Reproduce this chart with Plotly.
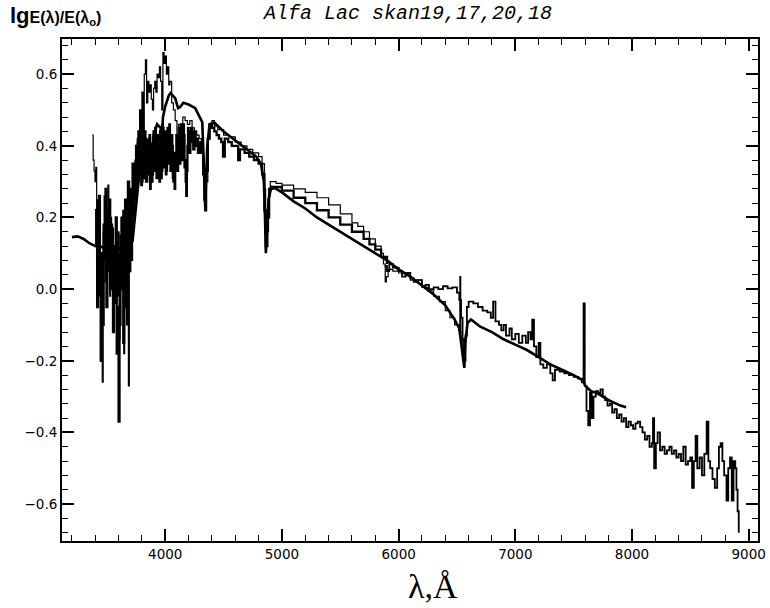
import plotly.graph_objects as go

# ---- series 1: smooth thick spectrum (wavelength in A, lg E/E0) ----
s1_wl = [3200, 3250, 3300, 3350, 3400, 3450, 3500, 3550, 3600, 3650,
         3700, 3720, 3740, 3760, 3780, 3800, 3830, 3860, 3880, 3889,
         3900, 3930, 3960, 3970, 3980, 4000, 4030, 4045, 4085, 4110,
         4128, 4155, 4200, 4257, 4290, 4317, 4325, 4335, 4342,
         4350, 4360, 4380, 4420, 4500, 4600, 4700, 4780, 4820, 4845,
         4855, 4862, 4870, 4885, 4910, 4950, 5000, 5100, 5200, 5300,
         5400, 5500, 5600, 5700, 5800, 5900, 6000, 6100, 6200, 6300,
         6400, 6480, 6520, 6540, 6555, 6563, 6572, 6590, 6620, 6700,
         6800, 6900, 7000, 7100, 7200, 7300, 7400, 7500, 7580, 7600,
         7650, 7700, 7800, 7900, 7950]
s1_val = [0.145, 0.147, 0.14, 0.128, 0.12, 0.118, 0.112, 0.11, 0.112, 0.115,
          0.12, 0.135, 0.2, 0.28, 0.33, 0.36, 0.4, 0.42, 0.40, 0.34,
          0.43, 0.46, 0.45, 0.40, 0.48, 0.51, 0.54, 0.547, 0.533, 0.505,
          0.508, 0.52, 0.515, 0.505, 0.485, 0.466, 0.40, 0.30, 0.23,
          0.30, 0.40, 0.46, 0.465, 0.44, 0.415, 0.39, 0.37, 0.35, 0.30,
          0.2, 0.10, 0.15, 0.25, 0.285, 0.28, 0.27, 0.245, 0.225, 0.20,
          0.18, 0.16, 0.14, 0.12, 0.10, 0.08, 0.055, 0.035, 0.01, -0.015,
          -0.045, -0.085, -0.11, -0.16, -0.21, -0.22, -0.15, -0.095, -0.085, -0.105,
          -0.12, -0.14, -0.155, -0.17, -0.19, -0.21, -0.225, -0.24, -0.255, -0.27,
          -0.285, -0.29, -0.31, -0.325, -0.33]

# ---- series 2: thin noisy spectrum (UV .. H-alpha) ----
s2_wl = [3375, 3382, 3390, 3398, 3405, 3412, 3420, 3428, 3436, 3444,
         3452, 3460, 3468, 3476, 3484, 3492, 3500, 3508, 3516, 3524,
         3532, 3540, 3548, 3556, 3564, 3572, 3580, 3588, 3596, 3604,
         3612, 3620, 3628, 3636, 3644, 3652, 3660, 3668, 3676, 3684,
         3692, 3700, 3710, 3720, 3730, 3740, 3750, 3760, 3770, 3780,
         3790, 3800, 3810, 3820, 3830, 3840, 3850, 3860, 3870, 3880,
         3890, 3900, 3910, 3920, 3930, 3940, 3950, 3960, 3970, 3980,
         3990, 4000, 4010, 4020, 4030, 4040, 4055, 4070, 4085, 4100,
         4115, 4130, 4150, 4170, 4190, 4210, 4230, 4250, 4270, 4290,
         4310, 4325, 4335, 4342, 4350, 4365, 4380, 4400, 4420, 4450,
         4500, 4550, 4600, 4650, 4700, 4750, 4800, 4830, 4850, 4860,
         4870, 4885, 4900, 4950, 5000, 5100, 5200, 5300, 5400, 5500,
         5600, 5650, 5700, 5750, 5800, 5850, 5870, 5885, 5895, 5910,
         5950, 6000, 6100, 6200, 6250, 6300, 6350, 6400, 6440, 6480,
         6515, 6525, 6532, 6545, 6560, 6575]
s2_val = [0.43, 0.36, 0.33, 0.30, 0.34, 0.15, 0.25, -0.02, 0.12, -0.20,
          0.08, -0.26, 0.16, 0.26, 0.02, 0.22, 0.08, 0.29, 0.14, -0.02,
          0.20, 0.04, 0.17, -0.08, 0.10, -0.04, 0.13, -0.02, 0.16, -0.14,
          0.10, 0.20, 0.00, 0.22, -0.18, 0.05, 0.18, -0.10, 0.24, -0.27,
          0.16, 0.26, 0.08, 0.30, 0.20, 0.36, 0.26, 0.42, 0.30, 0.50,
          0.38, 0.55, 0.45, 0.60, 0.64, 0.52, 0.58, 0.55, 0.57, 0.53,
          0.50, 0.56, 0.58, 0.55, 0.60, 0.59, 0.62, 0.58, 0.50, 0.66,
          0.63, 0.65, 0.60, 0.62, 0.57, 0.58, 0.52, 0.50, 0.47, 0.40,
          0.46, 0.45, 0.48, 0.47, 0.46, 0.47, 0.45, 0.44, 0.43, 0.42,
          0.40, 0.36, 0.28, 0.24, 0.30, 0.42, 0.45, 0.47, 0.455, 0.445,
          0.43, 0.425, 0.41, 0.40, 0.39, 0.38, 0.37, 0.35, 0.28, 0.14,
          0.16, 0.26, 0.30, 0.295, 0.29, 0.28, 0.27, 0.255, 0.235, 0.21,
          0.185, 0.175, 0.16, 0.14, 0.12, 0.10, 0.07, 0.02, 0.035, 0.055,
          0.05, 0.045, 0.025, 0.005, -0.005, -0.02, -0.035, -0.06, -0.08, -0.10,
          -0.115, 0.035, -0.12, -0.17, -0.20, -0.19]

# ---- series 3: heavy noisy spectrum (UV .. Na D) ----
s3_wl = [3400, 3408, 3416, 3424, 3432, 3440, 3448, 3456, 3464, 3472,
         3480, 3488, 3496, 3504, 3512, 3520, 3528, 3536, 3544, 3552,
         3560, 3568, 3576, 3584, 3592, 3600, 3608, 3616, 3624, 3632,
         3640, 3648, 3656, 3664, 3672, 3680, 3690, 3700, 3710, 3720,
         3730, 3740,
         3750, 3755, 3760, 3765, 3770, 3775, 3780, 3785, 3790, 3795,
         3800, 3805, 3810, 3815, 3820, 3825, 3830, 3835, 3840, 3845,
         3850, 3855, 3860, 3865, 3870, 3875, 3880, 3885, 3890, 3895,
         3900, 3905, 3910, 3915, 3920, 3925, 3930, 3935, 3940, 3945,
         3950, 3955, 3960, 3965, 3970, 3975, 3980, 3985, 3990, 3995,
         4000, 4005, 4010, 4015, 4020, 4025, 4030, 4035, 4040, 4045,
         4050, 4055, 4060, 4065, 4070, 4075, 4080, 4085, 4090, 4095,
         4100, 4105, 4110, 4115, 4120, 4125, 4130, 4135, 4140, 4145,
         4150, 4155, 4160, 4165, 4170, 4175, 4180, 4185, 4190, 4195,
         4200,
         4207, 4215, 4222, 4230, 4240, 4250, 4260, 4270, 4280, 4290,
         4300, 4310,
         4325, 4335, 4342, 4350, 4365, 4380, 4400, 4420, 4440, 4460,
         4480, 4495, 4510, 4540, 4570, 4600, 4625, 4640, 4680, 4720,
         4760, 4800, 4830, 4850, 4862, 4875, 4890, 4920, 5000, 5100,
         5200, 5300, 5400, 5500, 5600, 5700, 5750, 5800, 5850, 5900]
s3_val = [0.12, 0.22, -0.05, 0.15, 0.26, 0.05, -0.20, 0.10, -0.10, 0.18,
          0.08, 0.28, -0.05, 0.20, 0.05, 0.25, 0.00, 0.18, 0.08, -0.12,
          0.12, 0.02, 0.20, -0.18, -0.05, -0.37, -0.10, 0.15, 0.00, 0.20,
          -0.15, 0.08, 0.25, -0.05, 0.10, 0.30, 0.05, 0.28, 0.15, 0.35,
          0.25, 0.30,
          0.40, 0.30, 0.28, 0.41, 0.44, 0.33, 0.32, 0.43, 0.38, 0.29,
          0.30, 0.42, 0.45, 0.31, 0.34, 0.44, 0.42, 0.30, 0.30, 0.41,
          0.40, 0.32, 0.33, 0.43, 0.28, 0.35, 0.37, 0.30, 0.32, 0.42,
          0.44, 0.33, 0.35, 0.45, 0.40, 0.31, 0.31, 0.43, 0.42, 0.32,
          0.30, 0.44, 0.38, 0.31, 0.33, 0.46, 0.45, 0.34, 0.36, 0.44,
          0.41, 0.32, 0.33, 0.44, 0.45, 0.35, 0.38, 0.46, 0.42, 0.33,
          0.35, 0.43, 0.40, 0.31, 0.30, 0.38, 0.28, 0.34, 0.37, 0.43,
          0.42, 0.33, 0.36, 0.45, 0.44, 0.35, 0.39, 0.46, 0.45, 0.36,
          0.40, 0.46, 0.43, 0.34, 0.36, 0.30, 0.26, 0.33, 0.40, 0.45,
          0.44,
          0.38, 0.41, 0.45, 0.43, 0.39, 0.44, 0.40, 0.42, 0.38, 0.40,
          0.41, 0.38,
          0.32, 0.25, 0.22, 0.33, 0.42, 0.46, 0.45, 0.44, 0.43, 0.42,
          0.41, 0.37, 0.42, 0.41, 0.40, 0.40, 0.36, 0.39, 0.38, 0.37,
          0.36, 0.35, 0.32, 0.22, 0.12, 0.20, 0.28, 0.285, 0.275, 0.255,
          0.24, 0.22, 0.20, 0.18, 0.16, 0.14, 0.125, 0.11, 0.09, 0.07]

# ---- series 4: red noisy spectrum ----
s4_wl = [5880, 5900, 5920, 5950, 6000, 6030, 6060, 6100, 6130, 6160,
         6200, 6230, 6260, 6300, 6340, 6380, 6420, 6460, 6500, 6520,
         6535, 6548, 6560, 6572, 6585, 6600, 6640, 6680, 6720, 6760,
         6790, 6810, 6830, 6860, 6880, 6900, 6920, 6950, 6970, 7000,
         7030, 7060, 7090, 7110, 7130, 7145, 7160, 7180, 7200, 7215,
         7240, 7270, 7300, 7320, 7340, 7380, 7420, 7460, 7500, 7540,
         7570, 7585, 7595, 7610, 7625, 7640, 7655, 7670, 7690, 7710,
         7730, 7750, 7770, 7790, 7810, 7830, 7850, 7870, 7890, 7910,
         7930, 7950, 7970, 7990, 8010, 8030, 8050, 8070, 8090, 8110,
         8130, 8150, 8170, 8180, 8190, 8205, 8220, 8240, 8260, 8280,
         8300, 8320, 8340, 8360, 8380, 8400, 8420, 8440, 8460, 8480,
         8500, 8515, 8530, 8545, 8560, 8580, 8600, 8620, 8640, 8655,
         8670, 8690, 8710, 8730, 8745, 8760, 8775, 8790, 8810, 8825,
         8840, 8855, 8870, 8885, 8895, 8905, 8915]
s4_val = [0.065, 0.05, 0.07, 0.06, 0.05, 0.035, 0.045, 0.03, 0.02, 0.025,
          0.008, 0.012, 0.0, 0.005, 0.0, 0.008, 0.002, 0.005, -0.01, -0.03,
          -0.08, -0.14, -0.20, -0.13, -0.05, -0.035, -0.04, -0.05, -0.06, -0.065,
          -0.08, -0.035, -0.09, -0.10, -0.115, -0.10, -0.13, -0.11, -0.14, -0.125,
          -0.15, -0.13, -0.15, -0.12, -0.14, -0.085, -0.16, -0.19, -0.15, -0.21,
          -0.22, -0.21, -0.235, -0.255, -0.225, -0.23, -0.235, -0.24, -0.245, -0.25,
          -0.26, -0.04, -0.27, -0.34, -0.38, -0.29, -0.36, -0.30, -0.285, -0.29,
          -0.28, -0.30, -0.31, -0.325, -0.32, -0.345, -0.335, -0.36, -0.35, -0.37,
          -0.36, -0.385, -0.37, -0.38, -0.39, -0.375, -0.37, -0.385, -0.40, -0.42,
          -0.41, -0.44, -0.43, -0.36, -0.50, -0.43, -0.40, -0.45, -0.44, -0.46,
          -0.45, -0.44, -0.46, -0.45, -0.47, -0.46, -0.48, -0.44, -0.49, -0.48,
          -0.47, -0.555, -0.48, -0.41, -0.50, -0.47, -0.52, -0.46, -0.37, -0.48,
          -0.50, -0.53, -0.555, -0.50, -0.44, -0.43, -0.48, -0.52, -0.59, -0.50,
          -0.47, -0.59, -0.48, -0.50, -0.56, -0.62, -0.68]

fig = go.Figure()
series = [
    (s3_wl, s3_val, 2.3, "hv"),
    (s2_wl, s2_val, 1.2, "hv"),
    (s4_wl, s4_val, 1.8, "hv"),
    (s1_wl, s1_val, 2.6, "linear"),
]
for wl, val, w, shp in series:
    fig.add_trace(go.Scatter(x=wl, y=val, mode="lines",
                             line=dict(color="black", width=w, shape=shp),
                             hoverinfo="skip", showlegend=False))

tickfont = dict(family="DejaVu Sans", size=13.5, color="black")
fig.update_layout(
    width=770, height=608,
    margin=dict(l=62, r=12, t=39, b=67, autoexpand=False),
    paper_bgcolor="white", plot_bgcolor="white",
    showlegend=False,
    xaxis=dict(range=[3115, 9080], dtick=1000, tick0=0, automargin=False,
               ticks="inside", ticklen=12, tickwidth=1.5, tickcolor="black",
               showline=True, linewidth=2, linecolor="black", mirror="ticks",
               showgrid=False, zeroline=False, tickfont=tickfont,
               minor=dict(dtick=200, tick0=0, ticks="inside", ticklen=6,
                          tickwidth=1.2, tickcolor="black")),
    yaxis=dict(range=[-0.703, 0.698], dtick=0.2, tick0=0, tickformat=".1f",
               automargin=False,
               ticks="inside", ticklen=12, tickwidth=1.5, tickcolor="black",
               showline=True, linewidth=2, linecolor="black", mirror="ticks",
               showgrid=False, zeroline=False, tickfont=tickfont,
               minor=dict(dtick=0.04, tick0=0, ticks="inside", ticklen=6,
                          tickwidth=1.2, tickcolor="black")),
    annotations=[
        dict(text="<i>Alfa Lac skan19,17,20,18</i>", xref="paper", yref="paper",
             x=0.495, y=1.0, yshift=12, xanchor="center", yanchor="bottom",
             showarrow=False,
             font=dict(family="Liberation Mono", size=20, color="black")),
        dict(text="<b>lg</b><span style='font-size:16px'><b>E(λ)/E(λ<sub>o</sub>)</b></span>",
             xref="paper", yref="paper", x=0, xshift=-54, y=1.0, yshift=9,
             xanchor="left", yanchor="bottom", showarrow=False,
             font=dict(family="Liberation Sans", size=22, color="black")),
        dict(text="λ,Å", xref="paper", yref="paper", x=0.533, y=0, yshift=-66,
             xanchor="center", yanchor="bottom", showarrow=False,
             font=dict(family="Liberation Serif", size=34, color="black")),
    ],
)

fig.write_html("out.html", config={"displayModeBar": False},
               post_script="document.body.style.margin='0';")
